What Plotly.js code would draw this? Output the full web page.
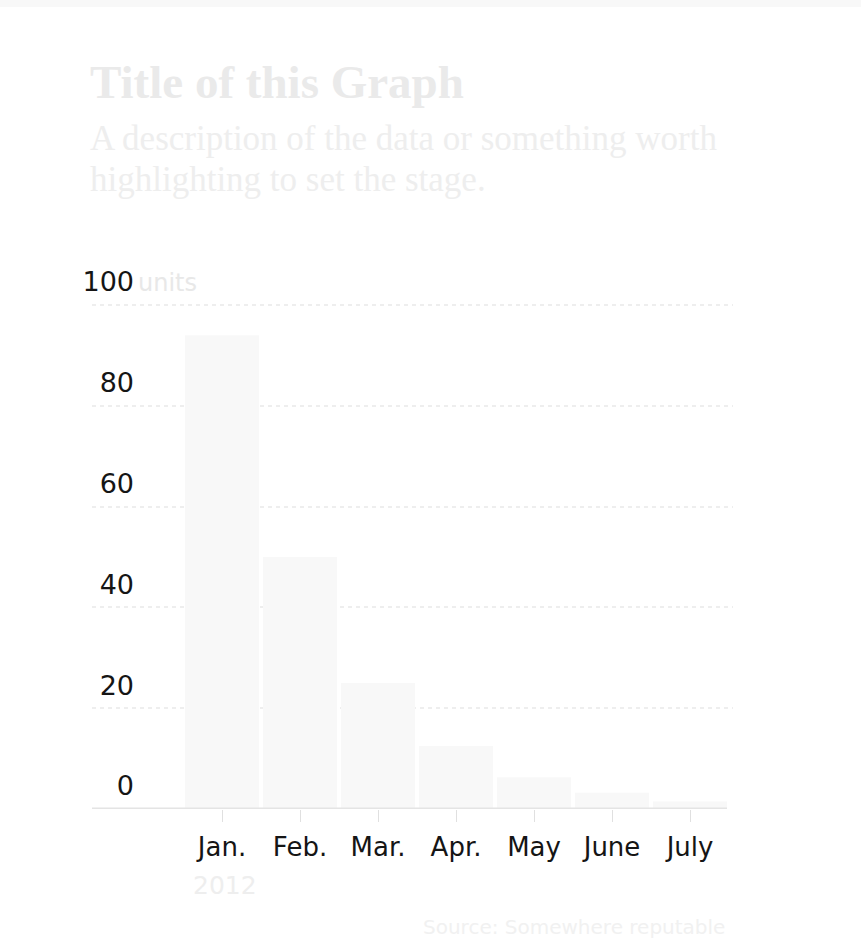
<!DOCTYPE html>
<html>
<head>
<meta charset="utf-8">
<script src="https://cdn.plot.ly/plotly-3.0.1.min.js"></script>
<style>
  html, body { margin: 0; padding: 0; background: #ffffff; }
  #chart { width: 861px; height: 941px; }
</style>
</head>
<body>
<div id="chart"></div>
<script>
// Monthly values for 2012
const months = ['Jan.', 'Feb.', 'Mar.', 'Apr.', 'May', 'June', 'July'];
const values = [94, 50, 25, 12.5, 6.3, 3.2, 1.5];
const yTickVals = [0, 20, 40, 60, 80, 100];
const yTickText = ['0', '20', '40', '60', '80', '100'];

const titleText = 'Title of this Graph';
const subtitleLines = ['A description of the data or something worth', 'highlighting to set the stage.'];
const unitText = 'units';
const yearText = '2012';
const sourceText = 'Source: Somewhere reputable';

// Plot-area geometry (pixels); y range tops out slightly above 100 so the 100 gridline shows
const W = 861, H = 941;
const L = 92, R = 128, T = 303, B = 132;
const Y_MAX = 100.4;
const plotW = W - L - R, plotH = H - T - B;
const px = x => (x - L) / plotW;          // page x -> paper x
const py = y => (H - B - y) / plotH;      // page y -> paper y

const sans = 'DejaVu Sans, sans-serif';
const serif = 'Liberation Serif, serif';

const bars = {
  type: 'bar',
  x: months,
  y: values,
  marker: { color: '#f8f8f8', line: { width: 0 } },
  hoverinfo: 'skip'
};

// carries the y2 axis that holds the value labels; draws nothing itself
const labelAxisCarrier = {
  type: 'scatter',
  mode: 'none',
  x: months,
  y: values,
  yaxis: 'y2',
  hoverinfo: 'skip'
};

const subtitleFont = { family: serif, size: 35, color: '#eeeeee' };

const layout = {
  width: W,
  height: H,
  margin: { l: L, r: R, t: T, b: B, pad: 0 },
  paper_bgcolor: '#ffffff',
  plot_bgcolor: 'rgba(0,0,0,0)',
  showlegend: false,
  bargap: 0.05,
  title: {
    text: '<b>' + titleText + '</b>',
    xref: 'container', yref: 'container',
    x: 90 / W, xanchor: 'left',
    y: 1 - 82 / H, yanchor: 'middle',
    font: { family: serif, size: 47, color: '#eaeaea' }
  },
  xaxis: {
    type: 'category',
    range: [-1.667, 6.551],
    showgrid: false,
    zeroline: false,
    showline: false,
    ticks: 'outside',
    ticklen: 12,
    tickwidth: 1,
    tickcolor: '#e0e0e0',
    ticklabelstandoff: 3,
    tickfont: { family: sans, size: 26, color: '#151515' },
    fixedrange: true
  },
  yaxis: {
    range: [0, Y_MAX],
    tickvals: yTickVals,
    showticklabels: false,
    showgrid: true,
    gridcolor: '#eeeeee',
    gridwidth: 2,
    griddash: '4px,4px',
    zeroline: false,
    showline: false,
    ticks: '',
    fixedrange: true
  },
  yaxis2: {
    overlaying: 'y',
    anchor: 'free',
    position: px(134),
    side: 'left',
    range: [0, Y_MAX],
    tickvals: yTickVals,
    ticktext: yTickText,
    showgrid: false,
    zeroline: false,
    showline: false,
    ticks: '',
    ticklabelshift: -23,
    tickfont: { family: sans, size: 27, color: '#151515' },
    fixedrange: true
  },
  shapes: [
    // baseline
    { type: 'line', xref: 'paper', yref: 'y', x0: 0, x1: px(727), y0: 0, y1: 0,
      line: { color: '#e4e4e4', width: 3 } },
    // light band along the top edge
    { type: 'rect', xref: 'paper', yref: 'paper', x0: px(0), x1: px(W), y0: py(7), y1: py(0),
      fillcolor: '#f8f8f8', line: { width: 0 }, layer: 'below' }
  ],
  annotations: [
    { text: subtitleLines[0], xref: 'paper', yref: 'paper', x: px(88), y: py(138),
      xanchor: 'left', yanchor: 'middle', align: 'left', showarrow: false,
      font: subtitleFont },
    { text: subtitleLines[1], xref: 'paper', yref: 'paper', x: px(88), y: py(179),
      xanchor: 'left', yanchor: 'middle', align: 'left', showarrow: false,
      font: subtitleFont },
    { text: unitText, xref: 'paper', yref: 'paper', x: px(136), y: py(283),
      xanchor: 'left', yanchor: 'middle', showarrow: false,
      font: { family: sans, size: 24, color: '#e8e8e8' } },
    { text: yearText, xref: 'paper', yref: 'paper', x: px(191), y: py(885),
      xanchor: 'left', yanchor: 'middle', showarrow: false,
      font: { family: sans, size: 25, color: '#eeeeee' } },
    { text: sourceText, xref: 'paper', yref: 'paper', x: px(727), y: py(927),
      xanchor: 'right', yanchor: 'middle', showarrow: false,
      font: { family: sans, size: 20, color: '#f1f1f1' } }
  ]
};

Plotly.newPlot('chart', [bars, labelAxisCarrier], layout, { displayModeBar: false, staticPlot: true });
</script>
</body>
</html>
